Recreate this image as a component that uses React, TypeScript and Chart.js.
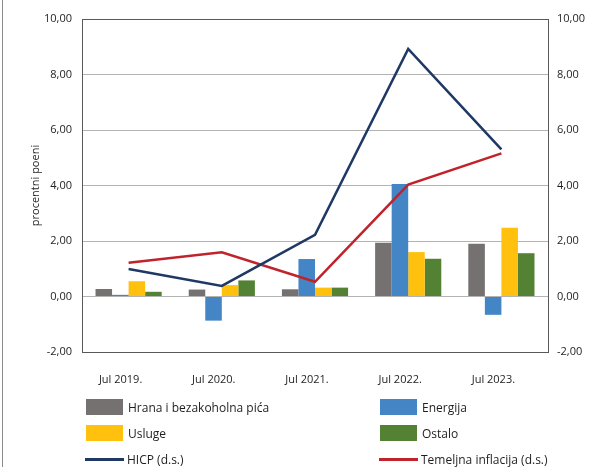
import React, { useEffect, useRef } from "react";
import { Chart, registerables } from "chart.js";

Chart.register(...registerables);

const categories = ["Jul 2019.", "Jul 2020.", "Jul 2021.", "Jul 2022.", "Jul 2023."];
const hrana = [0.27, 0.25, 0.26, 1.94, 1.9];
const energija = [0.06, -0.87, 1.35, 4.05, -0.66];
const usluge = [0.55, 0.41, 0.32, 1.6, 2.48];
const ostalo = [0.17, 0.58, 0.32, 1.36, 1.56];
const hicp = [0.99, 0.38, 2.22, 8.92, 5.3];
const temeljna = [1.22, 1.59, 0.53, 4.03, 5.16];
const yTicksMin = -2;
const yTicksMax = 10;

const COLORS = {
  hrana: "#767171",
  energija: "#4485C6",
  usluge: "#FFC10E",
  ostalo: "#548235",
  hicp: "#1F3864",
  temeljna: "#C0232B",
};

const FONT = "'Open Sans', 'Noto Sans', sans-serif";
const TEXT = "#1e1e1e";

const legendItems = [
  { label: "Hrana i bezakoholna pića", color: COLORS.hrana, type: "box" },
  { label: "Energija", color: COLORS.energija, type: "box" },
  { label: "Usluge", color: COLORS.usluge, type: "box" },
  { label: "Ostalo", color: COLORS.ostalo, type: "box" },
  { label: "HICP (d.s.)", color: COLORS.hicp, type: "line" },
  { label: "Temeljna inflacija (d.s.)", color: COLORS.temeljna, type: "line" },
];

const fmt = (v: number) => v.toFixed(2).replace(".", ",");

export default function App() {
  const ref = useRef<HTMLCanvasElement | null>(null);

  useEffect(() => {
    if (!ref.current) return;
    const frame = {
      id: "frame",
      afterDraw(chart: any) {
        const c = chart.ctx;
        c.save();
        c.strokeStyle = "#8a8a8a";
        c.lineWidth = 1;
        c.beginPath();
        c.moveTo(2.5, 0);
        c.lineTo(2.5, chart.height);
        c.stroke();
        c.restore();
      },
    };
    const chart = new Chart(ref.current, {
      type: "bar",
      data: {
        labels: categories,
        datasets: [
          { type: "line", label: "HICP (d.s.)", data: hicp, yAxisID: "y2", borderColor: COLORS.hicp, borderWidth: 2.5, pointRadius: 0, order: 0, fill: false },
          { type: "line", label: "Temeljna inflacija (d.s.)", data: temeljna, yAxisID: "y2", borderColor: COLORS.temeljna, borderWidth: 2.5, pointRadius: 0, order: 0, fill: false },
          { label: "Hrana i bezakoholna pića", data: hrana, backgroundColor: COLORS.hrana, order: 1, yAxisID: "y" },
          { label: "Energija", data: energija, backgroundColor: COLORS.energija, order: 1, yAxisID: "y" },
          { label: "Usluge", data: usluge, backgroundColor: COLORS.usluge, order: 1, yAxisID: "y" },
          { label: "Ostalo", data: ostalo, backgroundColor: COLORS.ostalo, order: 1, yAxisID: "y" },
        ] as any,
      },
      plugins: [frame],
      options: {
        animation: false,
        responsive: false,
        maintainAspectRatio: false,
        layout: { padding: { top: 19, left: 0, right: 0, bottom: 0 } },
        datasets: { bar: { categoryPercentage: 0.71, barPercentage: 1 } } as any,
        plugins: { legend: { display: false }, tooltip: { enabled: false } },
        scales: {
          x: {
            grid: { display: false, drawTicks: false },
            border: { display: true, color: "#595959", width: 1 },
            ticks: { padding: 21, labelOffset: -8, color: TEXT, font: { family: FONT, size: 11 } },
            afterFit: (s: any) => { s.height = 115; },
          },
          y: {
            position: "left",
            min: yTicksMin,
            max: yTicksMax,
            ticks: { stepSize: 2, padding: 10, color: TEXT, font: { family: FONT, size: 11 }, callback: (v: any) => fmt(Number(v)) },
            grid: {
              drawTicks: false,
              color: (ctx: any) => (ctx.tick && (ctx.tick.value === yTicksMax) ? "#595959" : "#b3b3b3"),
              lineWidth: 1,
            },
            border: { display: true, color: "#595959", width: 1 },
            title: { display: true, text: "procentni poeni", color: TEXT, font: { family: FONT, size: 11 }, padding: { top: 29, bottom: 0 } },
            afterFit: (s: any) => { s.width = 82; },
          },
          y2: {
            position: "right",
            min: yTicksMin,
            max: yTicksMax,
            ticks: { stepSize: 2, padding: 9, color: TEXT, font: { family: FONT, size: 11 }, callback: (v: any) => fmt(Number(v)) },
            grid: { display: false, drawTicks: false },
            border: { display: true, color: "#595959", width: 1 },
            afterFit: (s: any) => { s.width = 52; },
          },
        } as any,
      },
    });
    return () => chart.destroy();
  }, []);

  const colX = [86, 380];
  const rowY = [407, 433, 459];

  return (
    <div style={{ position: "fixed", left: 0, top: 0, width: 600, height: 467, background: "#fff" }}>
      <canvas ref={ref} width={600} height={467} style={{ position: "absolute", left: 0, top: 0 }} />
      {legendItems.map((it, i) => {
        const x = colX[i % 2];
        const y = rowY[Math.floor(i / 2)];
        return (
          <div key={it.label} style={{ position: "absolute", left: x, top: y - 10, height: 20, display: "flex", alignItems: "center", fontFamily: FONT, fontSize: 12, color: TEXT, whiteSpace: "nowrap" }}>
            {it.type === "box" ? (
              <span style={{ display: "inline-block", width: 37, height: 16, background: it.color, marginRight: 5 }} />
            ) : (
              <span style={{ display: "inline-block", width: 39, height: 3, background: it.color, marginRight: 3, marginLeft: -1 }} />
            )}
            <span>{it.label}</span>
          </div>
        );
      })}
    </div>
  );
}
